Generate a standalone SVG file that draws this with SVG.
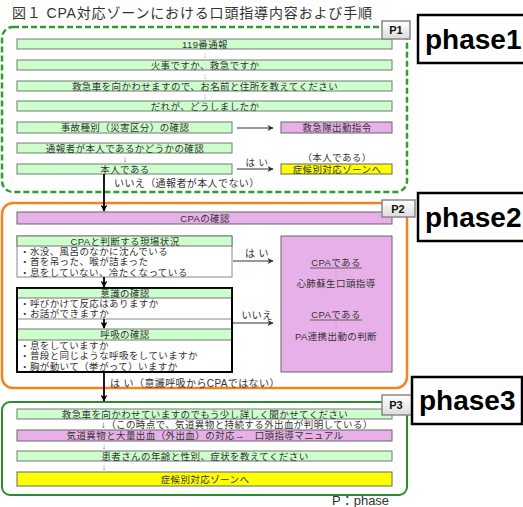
<svg xmlns="http://www.w3.org/2000/svg" width="523" height="507" viewBox="0 0 523 507">
  <defs>
    <style>
      text { font-family: "Liberation Sans", "Noto Sans CJK JP", sans-serif; fill: #333; }
      .t { font-size: 9.5px; letter-spacing: 0.4px; }
      .c { text-anchor: middle; dominant-baseline: central; }
      .l { dominant-baseline: central; }
      .g { fill: #ccffcc; stroke: #777; stroke-width: 1; }
      .m { fill: #e8b0e8; stroke: #666; stroke-width: 1; }
      .y { fill: #ffff00; stroke: #666; stroke-width: 1; }
      .w { fill: #fff; stroke: #888; stroke-width: 1; }
      .tiny { font-size: 9px; fill: #aaa; }
      .plab { fill: url(#pgrad); stroke: #888; stroke-width: 1.5; }
      .ptxt { font-size: 11px; font-weight: bold; fill: #111; }
      .phase { fill: #fff; stroke: #000; stroke-width: 2.5; }
      .ptitle { font-size: 28px; font-weight: bold; fill: #000; }
      .down { stroke: #000; stroke-width: 1.8; fill: none; }
      .side { stroke: #333; stroke-width: 1.2; fill: none; }
    </style>
    <linearGradient id="pgrad" x1="0" y1="0" x2="0" y2="1">
      <stop offset="0" stop-color="#ffffff"/>
      <stop offset="1" stop-color="#dcdcdc"/>
    </linearGradient>
    <marker id="headDown" viewBox="0 0 10 10" refX="9" refY="5" markerWidth="7" markerHeight="7" orient="auto" markerUnits="userSpaceOnUse">
      <path d="M0,0 L10,5 L0,10 L3,5 Z" fill="#000"/>
    </marker>
    <marker id="headSide" viewBox="0 0 10 10" refX="9" refY="5" markerWidth="7" markerHeight="6" orient="auto" markerUnits="userSpaceOnUse">
      <path d="M0,0 L10,5 L0,10 L2.5,5 Z" fill="#333"/>
    </marker>
  </defs>

  <rect width="523" height="507" fill="#fff"/>

  <!-- title -->
  <text x="12" y="13" class="l" style="font-size:14px" textLength="360" lengthAdjust="spacing">図１ CPA対応ゾーンにおける口頭指導内容および手順</text>

  <!-- zone frames -->
  <g id="zone-p1">
    <rect x="2" y="27" width="405" height="165" rx="11" fill="none" stroke="#2f9e2f" stroke-width="2.5" stroke-dasharray="6,3"/>
  </g>
  <g id="zone-p2">
    <rect x="2" y="203" width="405" height="185" rx="11" fill="none" stroke="#f5821f" stroke-width="2.5"/>
  </g>
  <g id="zone-p3">
    <rect x="2" y="402" width="405" height="93" rx="8" fill="none" stroke="#2a8c2a" stroke-width="2"/>
  </g>

  <!-- phase 1 -->
  <g id="n-119">
    <rect class="g" x="17" y="39" width="375" height="10"/>
    <text class="t c" x="205" y="44">119番通報</text>
  </g>
  <text class="tiny c" x="205" y="55">↓</text>
  <g id="n-fire">
    <rect class="g" x="17" y="60" width="375" height="10"/>
    <text class="t c" x="205" y="65">火事ですか、救急ですか</text>
  </g>
  <text class="tiny c" x="205" y="76">↓</text>
  <g id="n-address">
    <rect class="g" x="17" y="81" width="375" height="10"/>
    <text class="t c" x="205" y="86">救急車を向かわせますので、お名前と住所を教えてください</text>
  </g>
  <text class="tiny c" x="205" y="96">↓</text>
  <g id="n-who">
    <rect class="g" x="17" y="101" width="375" height="10"/>
    <text class="t c" x="205" y="106">だれが、どうしましたか</text>
  </g>
  <g id="n-type">
    <rect class="g" x="17" y="122" width="215" height="11"/>
    <text class="t c" x="125" y="127.5">事故種別（災害区分）の確認</text>
  </g>
  <g id="n-dispatch">
    <rect class="m" x="281" y="122" width="111" height="11"/>
    <text class="t c" x="337" y="127.5">救急隊出動指令</text>
  </g>
  <g id="n-caller">
    <rect class="g" x="17" y="143" width="215" height="10"/>
    <text class="t c" x="125" y="148">通報者が本人であるかどうかの確認</text>
  </g>
  <text class="c" x="125" y="159" style="font-size:9px;fill:#555">↓</text>
  <g id="n-self">
    <rect class="g" x="17" y="164" width="215" height="10"/>
    <text class="t c" x="125" y="169">本人である</text>
  </g>
  <text class="t c" x="257" y="162">は い</text>
  <text class="t c" x="337" y="157">（本人である）</text>
  <g id="n-zone1">
    <rect class="y" x="281" y="164" width="111" height="10"/>
    <text class="t c" x="337" y="169">症候別対応ゾーンへ</text>
  </g>
  <text class="t l" x="114" y="183" style="font-size:10px">いいえ（通報者が本人でない）</text>

  <!-- phase 2 -->
  <g id="n-cpa">
    <rect class="m" x="17" y="212" width="375" height="12"/>
    <text class="t c" x="205" y="218">CPAの確認</text>
  </g>
  <g id="n-scene">
    <rect class="w" x="17" y="236" width="215" height="41"/>
    <rect class="g" x="17" y="236" width="215" height="10"/>
    <text class="t c" x="125" y="241">CPAと判断する現場状況</text>
    <text class="t l" x="20" y="251.5">・水没、風呂のなかに沈んでいる</text>
    <text class="t l" x="20" y="261.5">・首を吊った、喉が詰まった</text>
    <text class="t l" x="20" y="272">・息をしていない、冷たくなっている</text>
  </g>
  <g id="n-check">
    <rect x="17" y="288" width="215" height="84" fill="#fff" stroke="#000" stroke-width="1.8"/>
    <rect class="g" x="17" y="288" width="215" height="10"/>
    <text class="t c" x="125" y="293">意識の確認</text>
    <text class="t l" x="20" y="303.5">・呼びかけて反応はありますか</text>
    <text class="t l" x="20" y="313.5">・お話ができますか</text>
    <line x1="17" y1="319" x2="232" y2="319" stroke="#888" stroke-width="1"/>
    <rect class="g" x="17" y="329" width="215" height="11"/>
    <text class="t c" x="125" y="334.5">呼吸の確認</text>
    <text class="t l" x="20" y="345.5">・息をしていますか</text>
    <text class="t l" x="20" y="355.5">・普段と同じような呼吸をしていますか</text>
    <text class="t l" x="20" y="366">・胸が動いて（挙がって）いますか</text>
    <rect x="17" y="288" width="215" height="84" fill="none" stroke="#000" stroke-width="1.8"/>
  </g>
  <text class="t c" x="257" y="253" style="font-size:10px">は い</text>
  <text class="t c" x="257" y="315" style="font-size:10px">いいえ</text>
  <g id="n-result">
    <rect class="m" x="281" y="236" width="111" height="136"/>
    <text class="t c" x="336" y="262">CPAである</text>
    <line x1="310" y1="268" x2="362" y2="268" stroke="#444" stroke-width="0.8"/>
    <text class="tiny c" x="336" y="273">↓</text>
    <text class="t c" x="336" y="283">心肺蘇生口頭指導</text>
    <text class="t c" x="336" y="314">CPAである</text>
    <line x1="310" y1="320" x2="362" y2="320" stroke="#444" stroke-width="0.8"/>
    <text class="tiny c" x="336" y="325">↓</text>
    <text class="t c" x="336" y="336">PA連携出動の判断</text>
  </g>
  <text class="t l" x="110" y="383" style="font-size:10px">は い（意識呼吸からCPAではない）</text>

  <!-- phase 3 -->
  <g id="n-detail">
    <rect class="g" x="17" y="409" width="375" height="10"/>
    <text class="t c" x="205" y="414">救急車を向かわせていますのでもう少し詳しく聞かせてください</text>
  </g>
  <text class="t l" x="101" y="424.5">↓（この時点で、気道異物と持続する外出血が判明している）</text>
  <g id="n-airway">
    <rect class="m" x="17" y="430" width="375" height="11"/>
    <text class="t c" x="205" y="435.5">気道異物と大量出血（外出血）の対応→　口頭指導マニュアル</text>
  </g>
  <text class="tiny c" x="104" y="446" style="fill:#777">↓</text>
  <g id="n-age">
    <rect class="g" x="17" y="451" width="375" height="10"/>
    <text class="t c" x="205" y="456">患者さんの年齢と性別、症状を教えてください</text>
  </g>
  <text class="tiny c" x="104" y="466.5" style="fill:#777">↓</text>
  <g id="n-zone3">
    <rect class="y" x="17" y="472" width="375" height="14"/>
    <text class="t c" x="205" y="479">症候別対応ゾーンへ</text>
  </g>

  <!-- connectors, drawn above the boxes they join -->
  <g id="connectors">
    <line class="down" x1="104" y1="174" x2="104" y2="211" marker-end="url(#headDown)"/>
    <line class="down" x1="104" y1="277" x2="104" y2="287" marker-end="url(#headDown)"/>
    <line class="down" x1="104" y1="319" x2="104" y2="328" marker-end="url(#headDown)"/>
    <line class="down" x1="104" y1="372" x2="104" y2="401" marker-end="url(#headDown)"/>
    <line class="side" x1="237" y1="128" x2="273" y2="128" marker-end="url(#headSide)"/>
    <line class="side" x1="237" y1="169" x2="273" y2="169" marker-end="url(#headSide)"/>
    <line class="side" x1="233" y1="261" x2="273" y2="261" marker-end="url(#headSide)"/>
    <line class="side" x1="233" y1="323" x2="273" y2="323" marker-end="url(#headSide)"/>
  </g>

  <!-- zone tags -->
  <g id="tag-p1">
    <rect class="plab" x="382" y="21" width="28" height="18"/>
    <text class="ptxt c" x="396" y="30">P1</text>
  </g>
  <g id="tag-p2">
    <rect class="plab" x="382" y="200" width="33" height="17"/>
    <text class="ptxt c" x="398" y="208.5">P2</text>
  </g>
  <g id="tag-p3">
    <rect class="plab" x="382" y="395" width="34" height="20"/>
    <text class="ptxt c" x="396" y="405">P3</text>
  </g>

  <!-- phase headings -->
  <g id="phase1">
    <rect class="phase" x="418" y="15" width="110" height="48"/>
    <text class="ptitle" x="425" y="49">phase1</text>
  </g>
  <g id="phase2">
    <rect class="phase" x="418" y="193" width="110" height="48"/>
    <text class="ptitle" x="425" y="227">phase2</text>
  </g>
  <g id="phase3">
    <rect class="phase" x="412" y="377" width="110" height="47"/>
    <text class="ptitle" x="419" y="410">phase3</text>
  </g>

  <text x="332" y="500" class="l" style="font-size:13px">P：phase</text>
</svg>
